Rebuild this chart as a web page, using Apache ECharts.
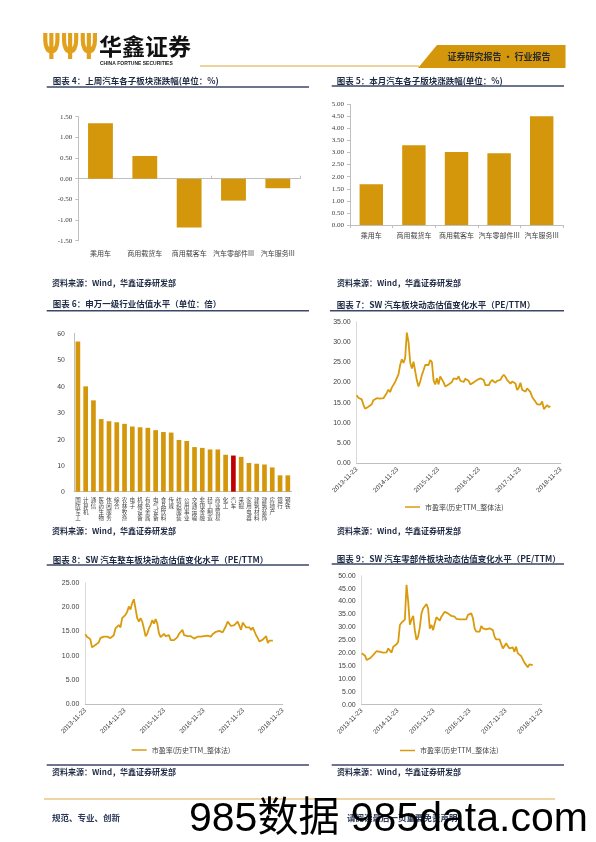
<!DOCTYPE html>
<html><head><meta charset="utf-8">
<script src="https://cdn.jsdelivr.net/npm/echarts@6/dist/echarts.min.js"></script>
<style>html,body{margin:0;padding:0;background:#fff}#c{width:596px;height:842px}</style>
</head><body><div id="c"></div>
<script>
// ---------- data ----------
const cats4 = ['乘用车','商用载货车','商用载客车','汽车零部件III','汽车服务III'];
const vals4 = [1.34, 0.55, -1.18, -0.53, -0.23];
const ticks4 = [-1.5, 1.5, 0.5];

const cats5 = ['乘用车','商用载货车','商用载客车','汽车零部件III','汽车服务III'];
const vals5 = [1.69, 3.30, 3.02, 2.97, 4.50];
const ticks5 = [0, 5, 0.5];

const cats6 = ['国防军工','计算机','通信','医药生物','休闲服务','综合','农林牧渔','电子','机械设备','有色金属','电气设备','食品饮料','传媒','纺织服装','公用事业','交通运输','非银金融','轻工制造','商业贸易','化工','汽车','采掘','家用电器','建筑材料','建筑装饰','房地产','银行','钢铁'];
const vals6 = [56.9,39.9,34.6,27.5,26.7,26.3,25.7,24.7,24.4,24.2,23.3,22.6,22.4,19.6,19.2,16.9,16.6,16.0,16.0,14.0,13.7,13.2,10.9,10.6,10.3,9.2,6.2,6.2];
const highlight6 = '汽车';
const ticks6 = [0, 60, 10];

const dateTicks = ['2013-11-23','2014-11-23','2015-11-23','2016-11-23','2017-11-23','2018-11-23'];
const seriesStart = '2013-11-23';
const seriesEnd = '2018-08-24';
const lineName = '市盈率(历史TTM_整体法)';

const pe7 = [16.8,16.2,16.1,15.8,14.5,13.5,13.8,14.0,14.3,14.6,15.6,15.9,16.1,16.2,16.0,16.3,16.1,16.4,17.4,18.2,17.6,18.7,18.4,20.1,20.2,22.0,24.3,25.7,24.8,26.0,32.3,30.0,25.0,23.4,25.1,25.3,20.5,19.0,20.2,21.8,23.0,24.3,24.5,24.3,25.5,25.0,20.5,19.5,21.0,19.5,21.5,21.7,20.0,19.0,18.8,19.5,19.8,20.1,21.0,21.4,20.8,21.5,20.4,20.6,20.1,20.9,20.6,20.4,19.5,19.9,20.0,20.4,20.6,20.9,21.0,20.9,20.6,19.3,18.9,19.3,20.1,20.6,20.2,19.9,20.4,20.1,20.6,21.4,21.9,21.4,20.6,20.4,19.7,20.2,20.4,19.7,18.1,18.7,19.9,18.2,18.5,17.7,18.5,18.7,17.6,16.4,16.0,15.2,14.6,14.6,14.5,15.3,13.4,13.9,14.4,13.9,14.1];
const ticks7 = [0, 35, 5];

const pe8 = [14.4,13.9,13.8,13.4,11.7,12.0,12.2,12.4,12.7,13.6,13.8,13.9,13.8,13.9,13.7,13.6,13.9,14.2,15.6,15.3,16.3,15.8,17.7,17.9,18.4,19.0,20.1,19.5,20.8,21.6,22.0,17.7,17.0,17.7,17.0,15.6,14.0,14.5,15.6,16.3,17.3,16.6,17.5,16.6,14.6,13.8,14.2,14.5,14.0,13.9,14.2,13.2,13.1,13.2,13.5,13.8,14.5,14.9,15.3,14.2,13.9,14.0,13.9,14.0,13.9,13.5,13.6,13.9,14.2,13.9,14.2,14.0,14.2,14.1,14.4,13.9,14.4,14.6,14.9,14.9,15.1,14.9,14.8,15.1,16.1,17.0,16.6,16.1,15.8,16.3,16.6,17.0,16.6,15.3,16.8,17.0,15.8,16.1,15.8,15.3,15.8,15.6,14.2,13.6,12.9,12.5,13.3,13.2,14.0,12.6,13.1,13.3,13.1];
const ticks8 = [0, 25, 5];

const pe9 = [19.9,19.3,19.0,17.3,17.6,18.0,18.6,19.3,19.9,20.8,21.2,20.5,20.8,20.2,20.5,20.3,21.8,21.2,20.2,22.5,22.7,23.4,24.4,30.9,31.8,32.2,33.0,46.5,40.0,31.0,33.0,34.4,28.9,25.1,26.4,30.0,35.4,37.3,36.9,39.0,37.3,29.5,30.9,28.9,31.5,33.9,33.5,32.6,34.1,34.8,36.0,36.4,35.4,35.7,34.4,33.9,34.1,33.3,33.7,33.1,32.8,33.1,32.6,33.1,34.8,35.1,35.4,33.5,29.6,28.3,28.7,28.3,30.5,29.6,28.9,29.2,28.7,29.6,30.0,28.9,26.4,25.3,25.1,25.3,24.8,21.8,22.7,23.8,22.7,21.8,22.5,22.2,20.5,22.5,19.9,19.3,18.9,17.6,16.3,16.3,14.5,15.6,15.0,15.3];
const ticks9 = [0, 50, 5];

// ---------- helpers ----------
const GOLD = '#D4960A', RED = '#C00000', LINE = '#D99B0C';
const CJK = '"Noto Sans CJK SC"';
const ts = s => Date.parse(s + 'T00:00:00Z');
const tickTs = dateTicks.map(ts);
function withDates(vals) {
  const a = ts(seriesStart), b = ts(seriesEnd), n = vals.length;
  return vals.map((v, i) => [a + (b - a) * i / (n - 1), v]);
}
function yAx(g, t, dec, font, extra) {
  return Object.assign({
    type: 'value', gridIndex: g, min: t[0], max: t[1], interval: t[2],
    axisLine: { show: true, lineStyle: { color: '#bfbfbf', width: 1 } },
    axisTick: { show: false },
    splitLine: { show: false },
    axisLabel: { fontSize: 7, color: '#404040', fontFamily: font, margin: 6,
      formatter: v => v.toFixed(dec) }
  }, extra || {});
}
function dateAx(g) {
  return {
    type: 'value', gridIndex: g, min: tickTs[0], max: tickTs[tickTs.length - 1],
    axisLine: { show: true, onZero: false, lineStyle: { color: '#bfbfbf' } },
    axisTick: { show: false },
    splitLine: { show: false },
    axisLabel: { customValues: tickTs, rotate: 45, fontSize: 6.5, color: '#404040',
      fontFamily: 'Liberation Sans', margin: 5, hideOverlap: false, showMinLabel: true, showMaxLabel: true,
      formatter: v => { const i = tickTs.indexOf(v); return i >= 0 ? dateTicks[i] : ''; } }
  };
}
function legendAt(left, top) {
  return { data: [lineName], left, top, icon: 'rect', itemWidth: 15, itemHeight: 1.5,
    itemGap: 4, padding: 0, selectedMode: false,
    textStyle: { fontSize: 7, color: '#404040', fontFamily: CJK } };
}
const titleFont = 'bold 8.5px ' + CJK;
function title(x, y, text) {
  return { type: 'text', x, y, style: { text, font: titleFont, fill: '#1f2a44', verticalAlign: 'middle' } };
}
function hline(x1, x2, y, color, w) {
  return { type: 'line', shape: { x1, y1: y, x2, y2: y }, style: { stroke: color, lineWidth: w } };
}
function source(x, y) {
  return { type: 'text', x, y, style: { text: '资料来源：Wind，华鑫证券研发部', font: 'bold 8px ' + CJK, fill: '#1f2a44', verticalAlign: 'middle' } };
}
const NAVY = '#3a4766';

const chart = echarts.init(document.getElementById('c'), null, { renderer: 'canvas' });
chart.setOption({
  animation: false,
  backgroundColor: '#fff',
  textStyle: { fontFamily: CJK },
  grid: [
    { left: 78.3, top: 116.7, width: 221.7, height: 124 },
    { left: 350, top: 104.3, width: 213, height: 120.7 },
    { left: 74, top: 333.3, width: 217.7, height: 158.4 },
    { left: 356.7, top: 321.7, width: 204, height: 141.6 },
    { left: 85.3, top: 582.7, width: 197.4, height: 121.6 },
    { left: 361.7, top: 575.7, width: 180, height: 129 }
  ],
  xAxis: [
    { type: 'category', gridIndex: 0, data: cats4, position: 'bottom',
      axisLine: { show: false, onZero: false }, axisTick: { show: false },
      axisLabel: { fontSize: 7, color: '#404040', margin: 9, interval: 0 } },
    { type: 'category', gridIndex: 0, data: cats4,
      axisLine: { show: true, onZero: true, lineStyle: { color: '#bfbfbf' } },
      axisTick: { show: true, length: 3, lineStyle: { color: '#bfbfbf' } },
      axisLabel: { show: false } },
    { type: 'category', gridIndex: 1, data: cats5,
      axisLine: { lineStyle: { color: '#bfbfbf' } },
      axisTick: { show: true, length: 3, lineStyle: { color: '#bfbfbf' } },
      axisLabel: { fontSize: 7, color: '#404040', margin: 7, interval: 0 } },
    { type: 'category', gridIndex: 2, data: cats6,
      axisLine: { lineStyle: { color: '#bfbfbf' } }, axisTick: { show: false },
      axisLabel: { interval: 0, fontSize: 5.5, lineHeight: 6, color: '#404040', margin: 5,
        verticalAlign: 'top', formatter: v => v.split('').join('\n') } },
    dateAx(3), dateAx(4), dateAx(5)
  ],
  yAxis: [
    yAx(0, ticks4, 2, 'Liberation Serif', { axisTick: { show: true, length: 3, lineStyle: { color: '#bfbfbf' } } }),
    yAx(1, ticks5, 2, 'Liberation Serif', { axisTick: { show: true, length: 3, lineStyle: { color: '#bfbfbf' } } }),
    yAx(2, ticks6, 0, 'Liberation Sans', { axisLabel: { fontSize: 7, color: '#404040', margin: 9 } }),
    yAx(3, ticks7, 2, 'Liberation Sans', { axisLine: { show: true, lineStyle: { color: '#d9d9d9' } } }),
    yAx(4, ticks8, 2, 'Liberation Sans', { axisLine: { show: true, lineStyle: { color: '#d9d9d9' } } }),
    yAx(5, ticks9, 2, 'Liberation Sans', { axisLine: { show: true, lineStyle: { color: '#d9d9d9' } } })
  ],
  legend: [legendAt(405, 503.5), legendAt(131.7, 746.5), legendAt(400, 747)],
  series: [
    { type: 'bar', xAxisIndex: 0, yAxisIndex: 0, data: vals4, barWidth: '56%', itemStyle: { color: GOLD } },
    { type: 'bar', xAxisIndex: 2, yAxisIndex: 1, data: vals5, barWidth: '55%', itemStyle: { color: GOLD } },
    { type: 'bar', xAxisIndex: 3, yAxisIndex: 2, data: vals6, barWidth: '60%',
      itemStyle: { color: p => p.name === highlight6 ? RED : GOLD } },
    { type: 'line', name: lineName, xAxisIndex: 4, yAxisIndex: 3, data: withDates(pe7),
      showSymbol: false, lineStyle: { color: LINE, width: 1.8 }, itemStyle: { color: LINE } },
    { type: 'line', name: lineName, xAxisIndex: 5, yAxisIndex: 4, data: withDates(pe8),
      showSymbol: false, lineStyle: { color: LINE, width: 1.8 }, itemStyle: { color: LINE } },
    { type: 'line', name: lineName, xAxisIndex: 6, yAxisIndex: 5, data: withDates(pe9),
      showSymbol: false, lineStyle: { color: LINE, width: 1.8 }, itemStyle: { color: LINE } }
  ],
  graphic: { elements: [
    // header
    { type: 'text', x: 42, y: 50, scaleY: 1.6, style: { text: 'ΨΨΨ', font: 'bold 22px "DejaVu Sans"', fill: '#E2A11C', verticalAlign: 'middle' } },
    { type: 'text', x: 99, y: 46, style: { text: '华鑫证券', font: 'bold 23px ' + CJK, fill: '#111', verticalAlign: 'middle' } },
    { type: 'text', x: 100, y: 63.5, style: { text: 'CHINA FORTUNE SECURITIES', font: 'bold 5px "Liberation Sans"', fill: '#222', verticalAlign: 'middle' } },
    hline(200, 419, 66, '#D9A53A', 1.2),
    { type: 'polygon', shape: { points: [[418, 68], [437, 45], [565.5, 45], [565.5, 68]] }, style: { fill: GOLD } },
    { type: 'text', x: 499, y: 56.5, style: { text: '证券研究报告 • 行业报告', font: 'bold 9px ' + CJK, fill: '#2b2b2b', align: 'center', verticalAlign: 'middle' } },
    // titles
    title(52.7, 81, '图表 4：上周汽车各子板块涨跌幅(单位：%)'), hline(46.7, 309, 87, NAVY, 1.5),
    title(336.7, 80.5, '图表 5：本月汽车各子版块涨跌幅(单位：%)'), hline(331.7, 564, 86, NAVY, 1.5),
    title(52.7, 303.5, '图表 6：申万一级行业估值水平（单位：倍）'), hline(46.7, 309, 310.7, NAVY, 1.5),
    title(336.7, 304.5, '图表 7：SW 汽车板块动态估值变化水平（PE/TTM）'), hline(330, 564, 310.7, NAVY, 1.5),
    title(52.7, 559.5, '图表 8：SW 汽车整车板块动态估值变化水平（PE/TTM）'), hline(46.7, 309, 565, NAVY, 1.5),
    title(336.7, 559, '图表 9：SW 汽车零部件板块动态估值变化水平（PE/TTM）'), hline(331.7, 564, 564, NAVY, 1.5),
    // sources
    source(52, 283), source(337, 283),
    source(52, 531), source(337, 531),
    hline(46.7, 309, 765, NAVY, 1.5), hline(331.7, 564, 765, NAVY, 1.5),
    source(52, 772), source(337, 772),
    // footer
    hline(44, 555, 799, '#E0AC4C', 1.2),
    { type: 'text', x: 52, y: 818, style: { text: '规范、专业、创新', font: 'bold 8.5px ' + CJK, fill: '#2d3b5a', verticalAlign: 'middle' } },
    { type: 'text', x: 347, y: 818, style: { text: '请阅读最后一页重要免责声明', font: 'bold 8.5px ' + CJK, fill: '#2d3b5a', verticalAlign: 'middle' } },
    { type: 'text', x: 189, y: 820, style: { text: '985数据 985data.com', font: '41px "Liberation Sans", ' + CJK, fill: '#000', verticalAlign: 'middle' } }
  ] }
});
</script></body></html>
